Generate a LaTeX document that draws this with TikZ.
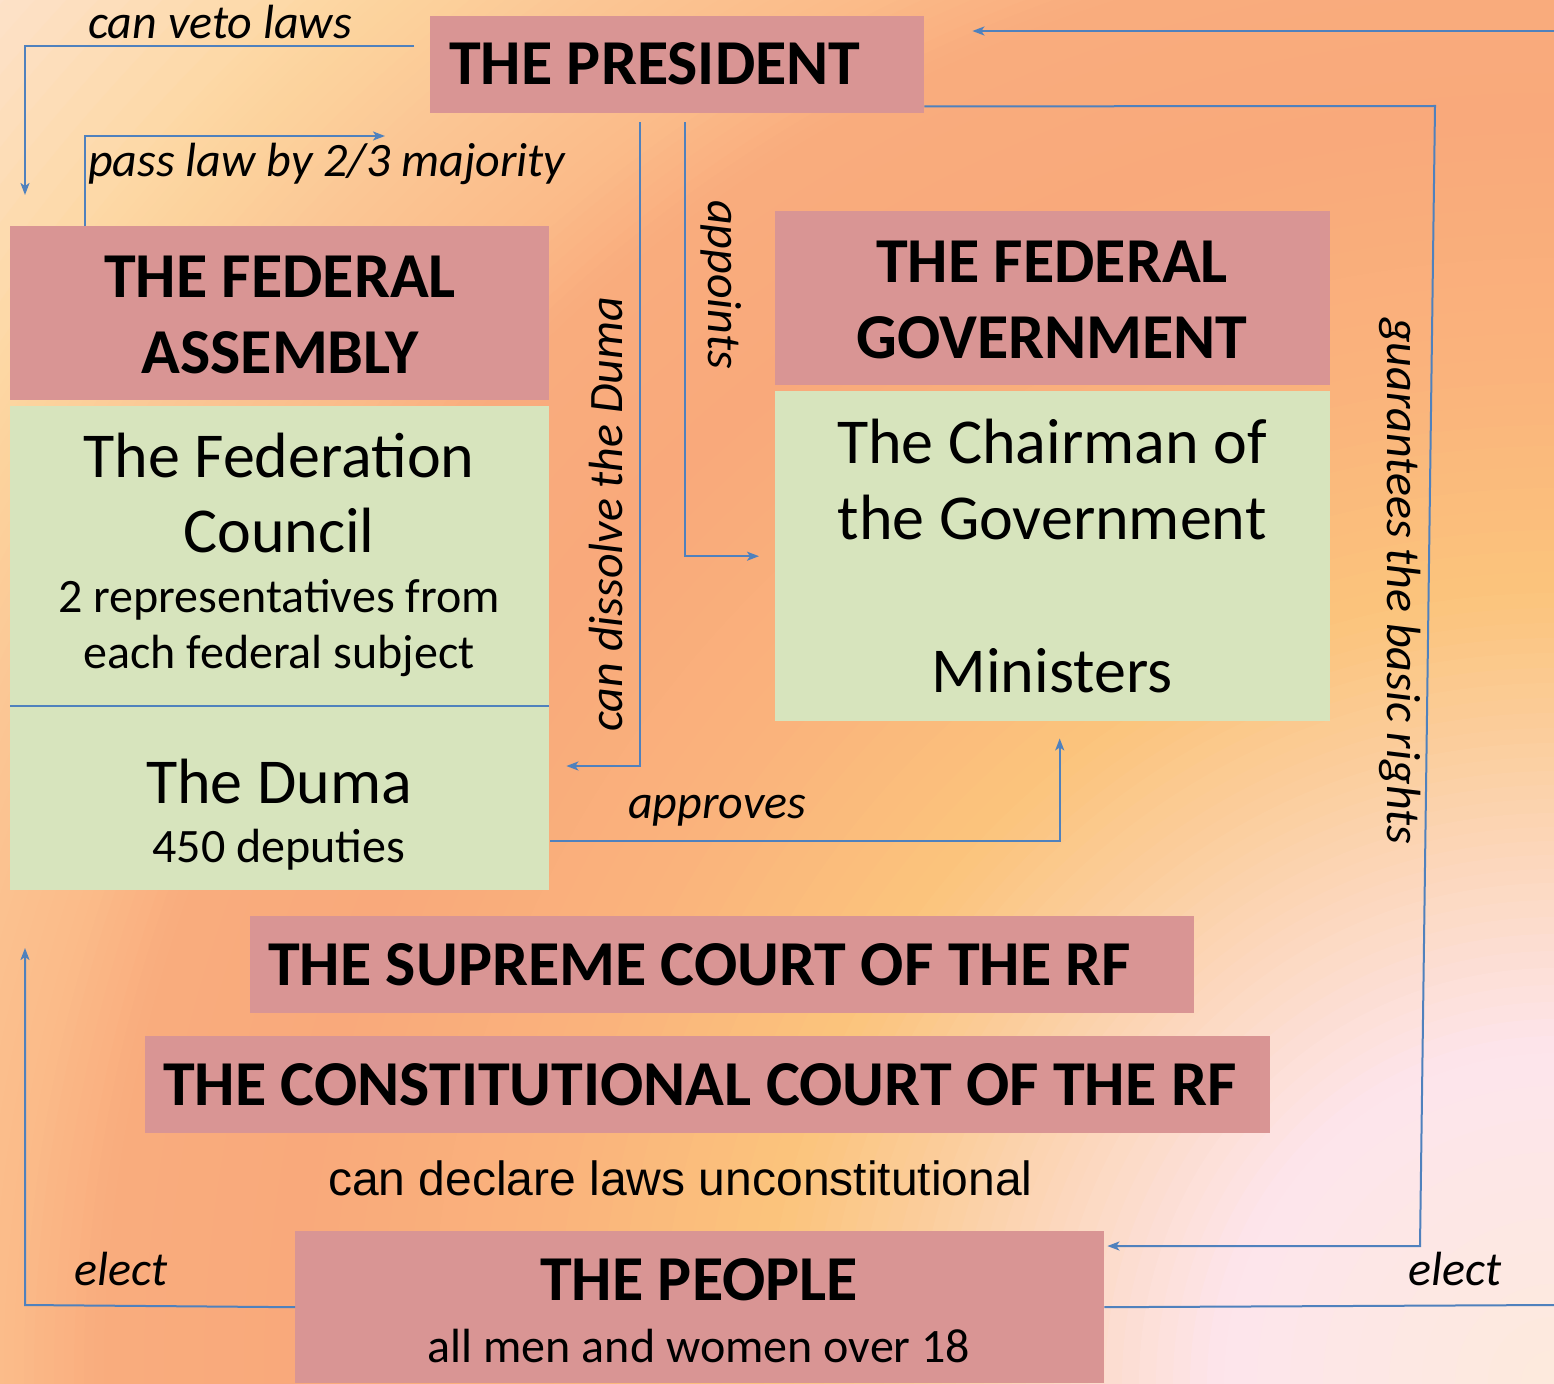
\documentclass[tikz,border=0pt]{standalone}
\usepackage{fontspec}
\setmainfont{Carlito}
\newfontfamily\arialf{Liberation Sans}
\usetikzlibrary{arrows.meta,calc}
\definecolor{pinkfill}{HTML}{D99594}
\definecolor{greenfill}{HTML}{D7E4BD}
\definecolor{connblue}{HTML}{4F81BD}
\definecolor{rgA}{HTML}{FDEADC}
\definecolor{rgB}{HTML}{FDE5EC}
\definecolor{rgC}{HTML}{FCD9C2}
\definecolor{rgD}{HTML}{FBCE9E}
\definecolor{rgE}{HTML}{FBC47C}
\definecolor{rgF}{HTML}{FAB47C}
\definecolor{rgG}{HTML}{F9A97B}
\definecolor{rgH}{HTML}{F9AC7D}
\definecolor{rgI}{HTML}{FBBC8A}
\definecolor{rgJ}{HTML}{FBC594}
\definecolor{rgK}{HTML}{FCD29C}
\definecolor{rgL}{HTML}{FDD8A6}
\definecolor{rgM}{HTML}{FDE3CC}
\begin{document}
\begin{tikzpicture}[x=1pt,y=-1pt,
  pinkbox/.style={fill=pinkfill, draw=none, inner sep=0pt, anchor=north west},
  greenbox/.style={fill=greenfill, draw=none, inner sep=0pt, anchor=north west},
  titletxt/.style={font=\bfseries\fontsize{64}{76}\selectfont, inner sep=0pt},
  bigtxt/.style={font=\fontsize{64}{76}\selectfont, inner sep=0pt},
  smalltxt/.style={font=\fontsize{48}{56}\selectfont, inner sep=0pt},
  arialtxt/.style={font=\arialf\fontsize{48}{56}\selectfont, inner sep=0pt},
  labtxt/.style={font=\itshape\fontsize{48}{56}\selectfont, inner sep=0pt},
  conn/.style={draw=connblue, line width=2pt},
  arr/.style={conn, -{Stealth[length=12pt,width=9pt,inset=3pt]}},
]
\useasboundingbox (0,0) rectangle (1554,1383);
% ---------- background: radial gradient from the bottom right corner ----------
\begin{scope}
\clip (0,0) rectangle (1554,1383);
\fill[rgM] (-10,-10) rectangle (1564,1393);
\foreach \ra/\rb/\ca/\cb in {1870/2100/rgL/rgM,1790/1870/rgK/rgL,1680/1790/rgJ/rgK,1550/1680/rgI/rgJ,1450/1550/rgH/rgI,1250/1450/rgG/rgH,1000/1250/rgF/rgG,790/1000/rgE/rgF,640/790/rgD/rgE,500/640/rgC/rgD,330/500/rgB/rgC,0/330/rgA/rgB}{
  \foreach \k in {0,...,9}{
    \pgfmathsetmacro\rr{\rb-(\rb-\ra)*\k/10}
    \pgfmathtruncatemacro\p{100-(\k+0.5)*10}
    \fill[fill=\cb!\p!\ca] (1554,1383) circle (\rr pt);
  }
}
\end{scope}
% ---------- boxes ----------
\node[pinkbox, minimum width=494pt, minimum height=97pt] (pres) at (430,16) {};
\node[pinkbox, minimum width=539pt, minimum height=174pt] (asmT) at (10,226) {};
\node[greenbox, minimum width=539pt, minimum height=300pt] (fedC) at (10,406) {};
\node[greenbox, minimum width=539pt, minimum height=184pt] (dumaB) at (10,706) {};
\node[pinkbox, minimum width=555pt, minimum height=174pt] (govT) at (775,211) {};
\node[greenbox, minimum width=555pt, minimum height=330pt] (govB) at (775,391) {};
\node[pinkbox, minimum width=944pt, minimum height=97pt] (sup) at (250,916) {};
\node[pinkbox, minimum width=1125pt, minimum height=97pt] (con) at (145,1036) {};
\node[pinkbox, minimum width=809pt, minimum height=152pt] (people) at (295,1231) {};
\draw[conn] (fedC.south west) -- (fedC.south east);
% ---------- texts ----------
\node[titletxt, anchor=base west] (presT) at (449,85) {THE PRESIDENT};
\node[titletxt, anchor=base] (asmT1) at (280,297) {THE FEDERAL};
\node[titletxt, anchor=base] (asmT2) at (280,373) {ASSEMBLY};
\node[bigtxt, anchor=base] (fc1) at (279,477) {The Federation};
\node[bigtxt, anchor=base] (fc2) at (279,552) {Council};
\node[smalltxt, anchor=base] (fc3) at (279,612) {2 representatives from};
\node[smalltxt, anchor=base] (fc4) at (279,668) {each federal subject};
\node[bigtxt, anchor=base] (dm1) at (279,803) {The Duma};
\node[smalltxt, anchor=base] (dm2) at (279,862) {450 deputies};
\node[titletxt, anchor=base] (gv1) at (1052,282) {THE FEDERAL};
\node[titletxt, anchor=base] (gv2) at (1052,358) {GOVERNMENT};
\node[bigtxt, anchor=base] (gv3) at (1052,463) {The Chairman of};
\node[bigtxt, anchor=base] (gv4) at (1052,539) {the Government};
\node[bigtxt, anchor=base] (gv5) at (1052,692) {Ministers};
\node[titletxt, anchor=base west] (supT) at (268,985) {THE SUPREME COURT OF THE RF};
\node[titletxt, anchor=base west] (conT) at (163,1105) {THE CONSTITUTIONAL COURT OF THE RF};
\node[arialtxt, anchor=base west] (conL) at (328,1195) {can declare laws unconstitutional};
\node[titletxt, anchor=base] (pp1) at (699,1300) {THE PEOPLE};
\node[smalltxt, anchor=base] (pp2) at (699,1362) {all men and women over 18};
% ---------- connector labels ----------
\node[labtxt, anchor=base west] (lveto) at (88,39) {can veto laws};
\node[labtxt, anchor=base west] (lpass) at (88,176) {pass law by 2/3 majority};
\node[labtxt, anchor=base west, rotate=90] (ldiss) at (622,732) {can dissolve the Duma};
\node[labtxt, anchor=base west, rotate=-90] (lapp) at (708,200) {appoints};
\node[labtxt, anchor=base west, rotate=-90] (lguar) at (1387,318) {guarantees the basic rights};
\node[labtxt, anchor=base west] (lappr) at (628,818) {approves};
\node[labtxt, anchor=base west] (lelL) at (74,1285) {elect};
\node[labtxt, anchor=base west] (lelR) at (1408,1285) {elect};
% ---------- connectors ----------
\coordinate (vetoS) at ($(pres.north west)+(-16,30)$);
\coordinate (vetoE) at ($(asmT.north west)+(15,-31)$);
\draw[arr] (vetoS) -| (vetoE);
\coordinate (passS) at ($(asmT.north west)+(75,0)$);
\coordinate (passE) at ($(asmT.north west)+(375,-90)$);
\draw[arr] (passS) |- (passE);
\coordinate (dissS) at ($(pres.south west)+(210,9)$);
\coordinate (dissE) at ($(dumaB.north east)+(17,60)$);
\draw[arr] (dissS) |- (dissE);
\coordinate (appS) at ($(pres.south west)+(255,9)$);
\coordinate (appE) at ($(govB.west)+(-16,0)$);
\draw[arr] (appS) |- (appE);
\coordinate (guarS) at ($(pres.south east)+(0,-7)$);
\coordinate (guarA) at (1435,106);
\coordinate (guarB) at (1420,1246);
\coordinate (guarE) at ($(people.north east)+(3,15)$);
\draw[arr] (guarS) -- (guarA) -- (guarB) -- (guarE);
\coordinate (apprS) at ($(dumaB.south east)+(1,-49)$);
\coordinate (apprE) at ($(govB.south)+(7,17)$);
\draw[arr] (apprS) -| (apprE);
\coordinate (elL) at (25,1305);
\coordinate (elLE) at (25,948);
\draw[arr] (people.west) -- (elL) -- (elLE);
\coordinate (elR) at (1554,1305);
\draw[conn] (people.east) -- (elR);
\coordinate (elTop) at (1554,31);
\coordinate (elTopE) at ($(pres.north east)+(48,15)$);
\draw[arr] (elTop) -- (elTopE);
\end{tikzpicture}
\end{document}
